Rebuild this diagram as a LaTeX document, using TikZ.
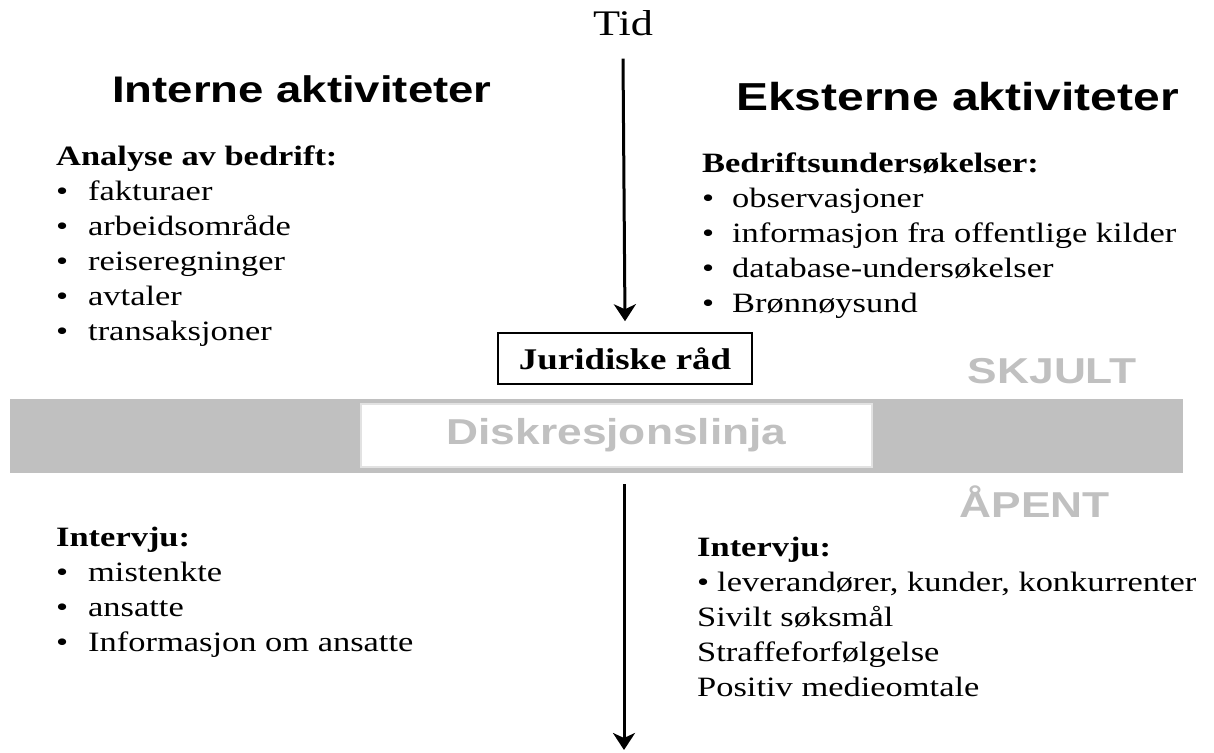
\documentclass[tikz,border=0pt]{standalone}
\usepackage{fontspec}
\setmainfont{Liberation Serif}[FakeStretch=1.23]
\setsansfont{Liberation Sans}[FakeStretch=1.23]
\usetikzlibrary{arrows.meta,positioning}
\definecolor{skjultgraa}{HTML}{C0C0C0}
\definecolor{kantgraa}{HTML}{E2E2E2}
\tikzset{
  overskrift/.style={anchor=base west, inner sep=0pt, font=\sffamily\bfseries\fontsize{37}{44}\selectfont},
  liste/.style={anchor=base west, inner sep=0pt, font=\fontsize{28}{35}\selectfont},
  graatekst/.style={text=skjultgraa, inner sep=0pt, font=\sffamily\bfseries\fontsize{36}{40}\selectfont},
  tidpil/.style={line width=3pt, -{Stealth[length=17pt,width=22pt,inset=5pt]}},
}
\newcommand{\punkt}[1][32pt]{\makebox[#1][l]{\textbullet}}
\begin{document}
\begin{tikzpicture}[x=1pt,y=-1pt]
            \useasboundingbox (0,0) rectangle (1214,752);
            % tidslinje og overskrifter
            \node[anchor=base, inner sep=0pt, font=\fontsize{36}{40}\selectfont] (tid) at (623,36) {Tid};
            \node[overskrift] (intern) at (112,102) {Interne aktiviteter};
            \node[overskrift, font=\sffamily\bfseries\fontsize{39}{46}\selectfont] (ekstern) at (736,110) {Eksterne aktiviteter};

            \node[liste] (analyse) at (56,165) {\begin{tabular}[t]{@{}l@{}}
                \textbf{Analyse av bedrift:}\\
                \punkt fakturaer\\
                \punkt arbeidsområde\\
                \punkt reiseregninger\\
                \punkt avtaler\\
                \punkt transaksjoner
              \end{tabular}};
            \node[liste] (undersok) at (702,172) {\begin{tabular}[t]{@{}l@{}}
                \textbf{Bedriftsundersøkelser:}\\
                \punkt[30pt]observasjoner\\
                \punkt[30pt]informasjon fra offentlige kilder\\
                \punkt[30pt]database-undersøkelser\\
                \punkt[30pt]Brønnøysund
              \end{tabular}};

            \node[draw, line width=1.5pt, minimum width=254pt, minimum height=51pt, inner sep=0pt,
                  font=\bfseries\fontsize{30}{36}\selectfont] (jur) at (625,358.5) {Juridiske råd};
            \node[graatekst, anchor=base east] (skjult) at (1137,383) {SKJULT};

            % diskresjonslinja
            \node[fill=skjultgraa, minimum width=1173pt, minimum height=74pt, inner sep=0pt] (band) at (596.5,436) {};
            \node[graatekst, fill=white, draw=kantgraa, line width=2pt, minimum width=511pt, minimum height=63pt] (linje) at (616.5,435.5) {Diskresjonslinja};
            \node[graatekst, anchor=base east] (apent) at (1110,517) {ÅPENT};

            \node[liste] (intervjuint) at (56,546) {\begin{tabular}[t]{@{}l@{}}
                \textbf{Intervju:}\\
                \punkt mistenkte\\
                \punkt ansatte\\
                \punkt Informasjon om ansatte
              \end{tabular}};
            \node[liste] (intervjueks) at (697,556) {\begin{tabular}[t]{@{}l@{}}
                \textbf{Intervju:}\\
                \punkt[20pt]leverandører, kunder, konkurrenter\\
                Sivilt søksmål\\
                Straffeforfølgelse\\
                Positiv medieomtale
              \end{tabular}};

            \coordinate (apen) at (624,484);
            \coordinate (slutt) at (624,750);
            \draw[tidpil] ([yshift=-22pt]tid.south) -- ([yshift=11pt]jur.north);
            \draw[tidpil] (apen) -- (slutt);
\end{tikzpicture}
\end{document}
